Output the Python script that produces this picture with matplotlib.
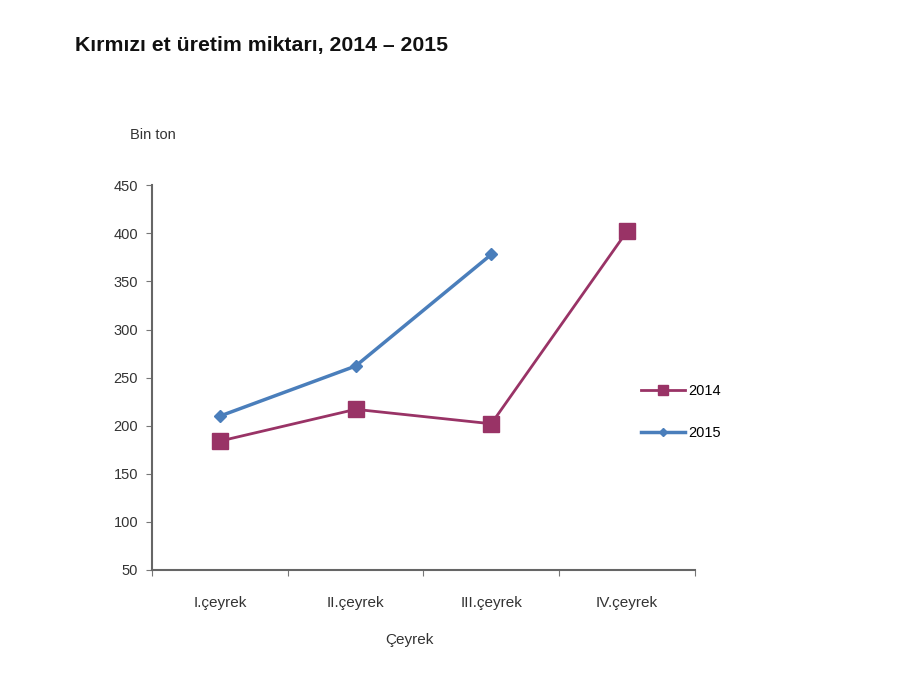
import matplotlib
matplotlib.use("Agg")
import matplotlib.pyplot as plt
import numpy as np
from matplotlib.lines import Line2D

plt.rcParams['font.family'] = ['Liberation Sans', 'DejaVu Sans']

categories = ["I.çeyrek", "II.çeyrek", "III.çeyrek", "IV.çeyrek"]
values_2014 = [184, 217, 202, 402]
values_2015 = [210, 262, 378]
yticks = [50, 100, 150, 200, 250, 300, 350, 400, 450]

c2014 = "#993366"
c2015 = "#4A7EBB"

fig = plt.figure(figsize=(9, 6.75), dpi=100)
ax = fig.add_axes([0.169, 0.1556, 0.603, 0.570])

x = np.arange(len(categories))
ax.plot(x, values_2014, color=c2014, marker="s", markersize=11, linewidth=2, label="2014")
ax.plot(x[:len(values_2015)], values_2015, color=c2015, marker="D", markersize=6, linewidth=2.5, label="2015")

ax.set_xlim(-0.5, len(categories) - 0.5)
ax.set_ylim(50, 450)
ax.set_yticks(yticks)
ax.set_yticklabels([str(v) for v in yticks], fontsize=10.5, color="#333333")

ax.set_xticks(np.arange(-0.5, len(categories)), minor=False)
ax.set_xticklabels([""] * (len(categories) + 1))
ax.set_xticks(x, minor=True)
ax.set_xticklabels(categories, minor=True, fontsize=11, color="#333333")
ax.tick_params(axis="x", which="minor", length=0, pad=19)
ax.tick_params(axis="x", which="major", length=4, color="#777777", direction="out")
ax.tick_params(axis="y", length=4, color="#777777", direction="out", pad=6)

for s in ["top", "right"]:
    ax.spines[s].set_visible(False)
for s in ["left", "bottom"]:
    ax.spines[s].set_color("#666666")
    ax.spines[s].set_linewidth(1.5)

fig.text(0.083, 0.933, "Kırmızı et üretim miktarı, 2014 – 2015", fontsize=15.3, fontweight="bold",
         color="#111111", va="center", ha="left")
fig.text(0.144, 0.80, "Bin ton", fontsize=10.5, color="#333333", va="center", ha="left")
fig.text(0.455, 0.052, "Çeyrek", fontsize=11, color="#333333", va="center", ha="center")

handles = [Line2D([], [], color=c2014, marker="s", markersize=7, linewidth=2),
           Line2D([], [], color=c2015, marker="D", markersize=4, linewidth=2.5)]
ax.legend(handles, ["2014", "2015"], loc="upper left", bbox_to_anchor=(0.877, 0.517), frameon=False, fontsize=10.5,
          handlelength=3.0, labelspacing=1.9, handletextpad=0.2)

fig.savefig("out.png", dpi=100, facecolor="white")
